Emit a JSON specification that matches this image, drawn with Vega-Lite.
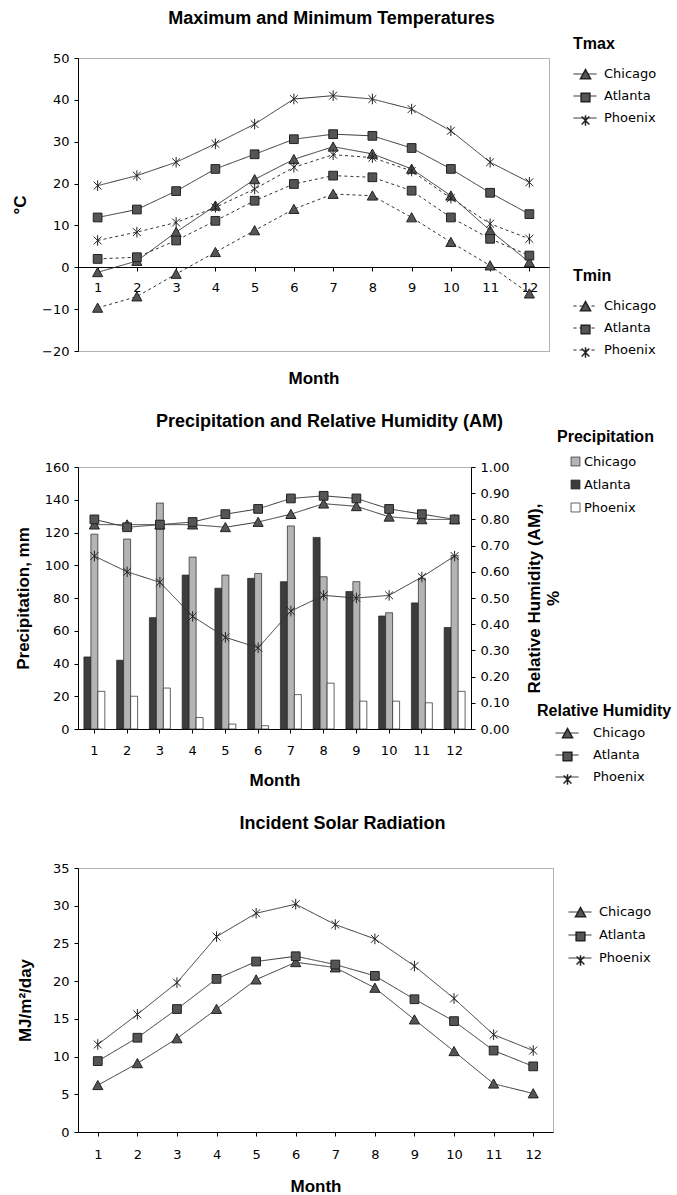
{
  "$schema": "https://vega.github.io/schema/vega-lite/v6.json",
  "background": "white",
  "padding": {"top": 9, "left": 11, "right": 0, "bottom": 0},
  "config": {
    "font": "Liberation Sans",
    "view": {"stroke": "#666", "strokeDash": [1, 1], "strokeWidth": 1},
    "axis": {"grid": false, "domainColor": "#000", "tickColor": "#000", "labelColor": "#000", "titleColor": "#000", "labelFont": "DejaVu Sans", "labelFontSize": 13, "titleFont": "Liberation Sans", "titleFontSize": 17, "titleFontWeight": "bold", "tickSize": 4, "labelPadding": 5},
    "legend": {"labelFont": "DejaVu Sans", "labelFontSize": 13, "labelColor": "#000", "titleFont": "Liberation Sans", "titleFontSize": 16, "titleFontWeight": "bold", "titleColor": "#000", "symbolSize": 529, "rowPadding": 3, "titlePadding": 10, "labelOffset": 7},
    "title": {"font": "Liberation Sans", "fontSize": 18, "fontWeight": "bold", "color": "#000", "anchor": "middle", "frame": "group"},
    "concat": {"spacing": 25}
  },
  "resolve": {"scale": {"shape": "independent", "strokeDash": "independent", "fill": "independent"}, "legend": {"shape": "independent", "strokeDash": "independent", "fill": "independent"}},
  "datasets": {
    "temp": [
      {"month": 1, "city": "Chicago", "kind": "Tmax", "value": -1.2},
      {"month": 2, "city": "Chicago", "kind": "Tmax", "value": 1.5},
      {"month": 3, "city": "Chicago", "kind": "Tmax", "value": 8.4},
      {"month": 4, "city": "Chicago", "kind": "Tmax", "value": 14.7},
      {"month": 5, "city": "Chicago", "kind": "Tmax", "value": 21},
      {"month": 6, "city": "Chicago", "kind": "Tmax", "value": 25.8},
      {"month": 7, "city": "Chicago", "kind": "Tmax", "value": 28.8},
      {"month": 8, "city": "Chicago", "kind": "Tmax", "value": 27.1},
      {"month": 9, "city": "Chicago", "kind": "Tmax", "value": 23.5},
      {"month": 10, "city": "Chicago", "kind": "Tmax", "value": 17.1},
      {"month": 11, "city": "Chicago", "kind": "Tmax", "value": 8.8},
      {"month": 12, "city": "Chicago", "kind": "Tmax", "value": 1.2},
      {"month": 1, "city": "Atlanta", "kind": "Tmax", "value": 11.9},
      {"month": 2, "city": "Atlanta", "kind": "Tmax", "value": 13.8},
      {"month": 3, "city": "Atlanta", "kind": "Tmax", "value": 18.2},
      {"month": 4, "city": "Atlanta", "kind": "Tmax", "value": 23.5},
      {"month": 5, "city": "Atlanta", "kind": "Tmax", "value": 27},
      {"month": 6, "city": "Atlanta", "kind": "Tmax", "value": 30.6},
      {"month": 7, "city": "Atlanta", "kind": "Tmax", "value": 31.8},
      {"month": 8, "city": "Atlanta", "kind": "Tmax", "value": 31.4},
      {"month": 9, "city": "Atlanta", "kind": "Tmax", "value": 28.5},
      {"month": 10, "city": "Atlanta", "kind": "Tmax", "value": 23.5},
      {"month": 11, "city": "Atlanta", "kind": "Tmax", "value": 17.8},
      {"month": 12, "city": "Atlanta", "kind": "Tmax", "value": 12.7},
      {"month": 1, "city": "Phoenix", "kind": "Tmax", "value": 19.5},
      {"month": 2, "city": "Phoenix", "kind": "Tmax", "value": 21.9},
      {"month": 3, "city": "Phoenix", "kind": "Tmax", "value": 25.1},
      {"month": 4, "city": "Phoenix", "kind": "Tmax", "value": 29.5},
      {"month": 5, "city": "Phoenix", "kind": "Tmax", "value": 34.2},
      {"month": 6, "city": "Phoenix", "kind": "Tmax", "value": 40.2},
      {"month": 7, "city": "Phoenix", "kind": "Tmax", "value": 41},
      {"month": 8, "city": "Phoenix", "kind": "Tmax", "value": 40.2},
      {"month": 9, "city": "Phoenix", "kind": "Tmax", "value": 37.8},
      {"month": 10, "city": "Phoenix", "kind": "Tmax", "value": 32.6},
      {"month": 11, "city": "Phoenix", "kind": "Tmax", "value": 25.1},
      {"month": 12, "city": "Phoenix", "kind": "Tmax", "value": 20.3},
      {"month": 1, "city": "Chicago", "kind": "Tmin", "value": -9.7},
      {"month": 2, "city": "Chicago", "kind": "Tmin", "value": -7},
      {"month": 3, "city": "Chicago", "kind": "Tmin", "value": -1.6},
      {"month": 4, "city": "Chicago", "kind": "Tmin", "value": 3.6},
      {"month": 5, "city": "Chicago", "kind": "Tmin", "value": 8.8},
      {"month": 6, "city": "Chicago", "kind": "Tmin", "value": 13.9},
      {"month": 7, "city": "Chicago", "kind": "Tmin", "value": 17.5},
      {"month": 8, "city": "Chicago", "kind": "Tmin", "value": 17.1},
      {"month": 9, "city": "Chicago", "kind": "Tmin", "value": 11.9},
      {"month": 10, "city": "Chicago", "kind": "Tmin", "value": 6},
      {"month": 11, "city": "Chicago", "kind": "Tmin", "value": 0.4},
      {"month": 12, "city": "Chicago", "kind": "Tmin", "value": -6.3},
      {"month": 1, "city": "Atlanta", "kind": "Tmin", "value": 2},
      {"month": 2, "city": "Atlanta", "kind": "Tmin", "value": 2.4},
      {"month": 3, "city": "Atlanta", "kind": "Tmin", "value": 6.4},
      {"month": 4, "city": "Atlanta", "kind": "Tmin", "value": 11.1},
      {"month": 5, "city": "Atlanta", "kind": "Tmin", "value": 15.9},
      {"month": 6, "city": "Atlanta", "kind": "Tmin", "value": 19.9},
      {"month": 7, "city": "Atlanta", "kind": "Tmin", "value": 21.9},
      {"month": 8, "city": "Atlanta", "kind": "Tmin", "value": 21.5},
      {"month": 9, "city": "Atlanta", "kind": "Tmin", "value": 18.3},
      {"month": 10, "city": "Atlanta", "kind": "Tmin", "value": 11.9},
      {"month": 11, "city": "Atlanta", "kind": "Tmin", "value": 6.8},
      {"month": 12, "city": "Atlanta", "kind": "Tmin", "value": 2.8},
      {"month": 1, "city": "Phoenix", "kind": "Tmin", "value": 6.4},
      {"month": 2, "city": "Phoenix", "kind": "Tmin", "value": 8.4},
      {"month": 3, "city": "Phoenix", "kind": "Tmin", "value": 10.7},
      {"month": 4, "city": "Phoenix", "kind": "Tmin", "value": 14.3},
      {"month": 5, "city": "Phoenix", "kind": "Tmin", "value": 18.7},
      {"month": 6, "city": "Phoenix", "kind": "Tmin", "value": 23.9},
      {"month": 7, "city": "Phoenix", "kind": "Tmin", "value": 26.9},
      {"month": 8, "city": "Phoenix", "kind": "Tmin", "value": 26.2},
      {"month": 9, "city": "Phoenix", "kind": "Tmin", "value": 23},
      {"month": 10, "city": "Phoenix", "kind": "Tmin", "value": 16.5},
      {"month": 11, "city": "Phoenix", "kind": "Tmin", "value": 10.4},
      {"month": 12, "city": "Phoenix", "kind": "Tmin", "value": 6.8}
    ],
    "precip": [
      {"month": 1, "station": "Atlanta", "value": 44}, {"month": 1, "station": "Chicago", "value": 119}, {"month": 1, "station": "Phoenix", "value": 23},
      {"month": 2, "station": "Atlanta", "value": 42}, {"month": 2, "station": "Chicago", "value": 116}, {"month": 2, "station": "Phoenix", "value": 20},
      {"month": 3, "station": "Atlanta", "value": 68}, {"month": 3, "station": "Chicago", "value": 138}, {"month": 3, "station": "Phoenix", "value": 25},
      {"month": 4, "station": "Atlanta", "value": 94}, {"month": 4, "station": "Chicago", "value": 105}, {"month": 4, "station": "Phoenix", "value": 7},
      {"month": 5, "station": "Atlanta", "value": 86}, {"month": 5, "station": "Chicago", "value": 94}, {"month": 5, "station": "Phoenix", "value": 3},
      {"month": 6, "station": "Atlanta", "value": 92}, {"month": 6, "station": "Chicago", "value": 95}, {"month": 6, "station": "Phoenix", "value": 2},
      {"month": 7, "station": "Atlanta", "value": 90}, {"month": 7, "station": "Chicago", "value": 124}, {"month": 7, "station": "Phoenix", "value": 21},
      {"month": 8, "station": "Atlanta", "value": 117}, {"month": 8, "station": "Chicago", "value": 93}, {"month": 8, "station": "Phoenix", "value": 28},
      {"month": 9, "station": "Atlanta", "value": 84}, {"month": 9, "station": "Chicago", "value": 90}, {"month": 9, "station": "Phoenix", "value": 17},
      {"month": 10, "station": "Atlanta", "value": 69}, {"month": 10, "station": "Chicago", "value": 71}, {"month": 10, "station": "Phoenix", "value": 17},
      {"month": 11, "station": "Atlanta", "value": 77}, {"month": 11, "station": "Chicago", "value": 92}, {"month": 11, "station": "Phoenix", "value": 16},
      {"month": 12, "station": "Atlanta", "value": 62}, {"month": 12, "station": "Chicago", "value": 106}, {"month": 12, "station": "Phoenix", "value": 23}
    ],
    "rh": [
      {"month": 1, "city": "Chicago", "value": 0.78}, {"month": 2, "city": "Chicago", "value": 0.78}, {"month": 3, "city": "Chicago", "value": 0.78},
      {"month": 4, "city": "Chicago", "value": 0.78}, {"month": 5, "city": "Chicago", "value": 0.77}, {"month": 6, "city": "Chicago", "value": 0.79},
      {"month": 7, "city": "Chicago", "value": 0.82}, {"month": 8, "city": "Chicago", "value": 0.86}, {"month": 9, "city": "Chicago", "value": 0.85},
      {"month": 10, "city": "Chicago", "value": 0.81}, {"month": 11, "city": "Chicago", "value": 0.8}, {"month": 12, "city": "Chicago", "value": 0.8},
      {"month": 1, "city": "Atlanta", "value": 0.8}, {"month": 2, "city": "Atlanta", "value": 0.77}, {"month": 3, "city": "Atlanta", "value": 0.78},
      {"month": 4, "city": "Atlanta", "value": 0.79}, {"month": 5, "city": "Atlanta", "value": 0.82}, {"month": 6, "city": "Atlanta", "value": 0.84},
      {"month": 7, "city": "Atlanta", "value": 0.88}, {"month": 8, "city": "Atlanta", "value": 0.89}, {"month": 9, "city": "Atlanta", "value": 0.88},
      {"month": 10, "city": "Atlanta", "value": 0.84}, {"month": 11, "city": "Atlanta", "value": 0.82}, {"month": 12, "city": "Atlanta", "value": 0.8},
      {"month": 1, "city": "Phoenix", "value": 0.66}, {"month": 2, "city": "Phoenix", "value": 0.6}, {"month": 3, "city": "Phoenix", "value": 0.56},
      {"month": 4, "city": "Phoenix", "value": 0.43}, {"month": 5, "city": "Phoenix", "value": 0.35}, {"month": 6, "city": "Phoenix", "value": 0.31},
      {"month": 7, "city": "Phoenix", "value": 0.45}, {"month": 8, "city": "Phoenix", "value": 0.51}, {"month": 9, "city": "Phoenix", "value": 0.5},
      {"month": 10, "city": "Phoenix", "value": 0.51}, {"month": 11, "city": "Phoenix", "value": 0.58}, {"month": 12, "city": "Phoenix", "value": 0.66}
    ],
    "solar": [
      {"month": 1, "city": "Chicago", "value": 6.2}, {"month": 2, "city": "Chicago", "value": 9.1}, {"month": 3, "city": "Chicago", "value": 12.4},
      {"month": 4, "city": "Chicago", "value": 16.3}, {"month": 5, "city": "Chicago", "value": 20.2}, {"month": 6, "city": "Chicago", "value": 22.5},
      {"month": 7, "city": "Chicago", "value": 21.8}, {"month": 8, "city": "Chicago", "value": 19.1}, {"month": 9, "city": "Chicago", "value": 14.9},
      {"month": 10, "city": "Chicago", "value": 10.7}, {"month": 11, "city": "Chicago", "value": 6.4}, {"month": 12, "city": "Chicago", "value": 5.1},
      {"month": 1, "city": "Atlanta", "value": 9.4}, {"month": 2, "city": "Atlanta", "value": 12.5}, {"month": 3, "city": "Atlanta", "value": 16.3},
      {"month": 4, "city": "Atlanta", "value": 20.3}, {"month": 5, "city": "Atlanta", "value": 22.6}, {"month": 6, "city": "Atlanta", "value": 23.3},
      {"month": 7, "city": "Atlanta", "value": 22.2}, {"month": 8, "city": "Atlanta", "value": 20.7}, {"month": 9, "city": "Atlanta", "value": 17.6},
      {"month": 10, "city": "Atlanta", "value": 14.7}, {"month": 11, "city": "Atlanta", "value": 10.8}, {"month": 12, "city": "Atlanta", "value": 8.7},
      {"month": 1, "city": "Phoenix", "value": 11.6}, {"month": 2, "city": "Phoenix", "value": 15.6}, {"month": 3, "city": "Phoenix", "value": 19.8},
      {"month": 4, "city": "Phoenix", "value": 25.9}, {"month": 5, "city": "Phoenix", "value": 29}, {"month": 6, "city": "Phoenix", "value": 30.2},
      {"month": 7, "city": "Phoenix", "value": 27.5}, {"month": 8, "city": "Phoenix", "value": 25.6}, {"month": 9, "city": "Phoenix", "value": 22},
      {"month": 10, "city": "Phoenix", "value": 17.7}, {"month": 11, "city": "Phoenix", "value": 12.9}, {"month": 12, "city": "Phoenix", "value": 10.8}
    ]
  },
  "vconcat": [
    {
      "width": 471,
      "height": 293,
      "title": {"text": "Maximum and Minimum Temperatures", "dx": 18, "offset": 8},
      "data": {"name": "temp"},
      "encoding": {
        "x": {"field": "month", "type": "ordinal", "scale": {"type": "point", "padding": 0.5}, "axis": {"title": "Month", "labelAngle": 0, "offset": -84, "labelPadding": 10, "titlePadding": 76}},
        "y": {"field": "value", "type": "quantitative", "scale": {"domain": [-20, 50], "nice": false, "zero": false}, "axis": {"title": "°C", "values": [-20, -10, 0, 10, 20, 30, 40, 50], "titlePadding": 12}}
      },
      "layer": [
        {"transform": [{"filter": "datum.kind === 'Tmax'"}], "mark": {"type": "line", "color": "#333", "strokeWidth": 1},
         "encoding": {"strokeDash": {"field": "city", "type": "nominal", "scale": {"domain": ["Chicago", "Atlanta", "Phoenix"], "range": [[1, 0], [1, 0], [1, 0]]},
           "legend": {"title": "Tmax", "orient": "none", "legendX": 495, "legendY": -22, "symbolStrokeColor": "#222", "symbolStrokeWidth": 1}}}},
        {"transform": [{"filter": "datum.kind === 'Tmin'"}], "mark": {"type": "line", "color": "#333", "strokeWidth": 1},
         "encoding": {"strokeDash": {"field": "city", "type": "nominal", "scale": {"domain": ["Chicago", "Atlanta", "Phoenix"], "range": [[3, 3], [3, 3], [3, 3]]},
           "legend": {"title": "Tmin", "orient": "none", "legendX": 495, "legendY": 210, "symbolStrokeColor": "#222", "symbolStrokeWidth": 1}}}},
        {"transform": [{"filter": "datum.kind === 'Tmax'"}], "mark": {"type": "point", "filled": true, "fill": "#555", "stroke": "#222", "strokeWidth": 1, "opacity": 1, "size": 529},
         "encoding": {"shape": {"field": "city", "type": "nominal", "scale": {"domain": ["Chicago", "Atlanta", "Phoenix"], "range": ["M-0.44,0.38L0,-0.42L0.44,0.38Z", "M-0.38,-0.38L0.38,-0.38L0.38,0.38L-0.38,0.38Z", "M-0.34,-0.34L0.34,0.34M-0.34,0.34L0.34,-0.34M0,-0.46L0,0.46"]},
           "legend": {"title": " ", "labelExpr": "''", "orient": "none", "legendX": 495, "legendY": -22,
             "encode": {"symbols": {"update": {"fill": {"value": "#555"}, "stroke": {"value": "#222"}, "strokeWidth": {"value": 1}, "opacity": {"value": 1}}}}}}}},
        {"transform": [{"filter": "datum.kind === 'Tmin'"}], "mark": {"type": "point", "filled": true, "fill": "#555", "stroke": "#222", "strokeWidth": 1, "opacity": 1, "size": 529},
         "encoding": {"shape": {"field": "city", "type": "nominal", "scale": {"domain": ["Chicago", "Atlanta", "Phoenix"], "range": ["M-0.44,0.38L0,-0.42L0.44,0.38Z", "M-0.38,-0.38L0.38,-0.38L0.38,0.38L-0.38,0.38Z", "M-0.34,-0.34L0.34,0.34M-0.34,0.34L0.34,-0.34M0,-0.46L0,0.46"]},
           "legend": {"title": " ", "labelExpr": "''", "orient": "none", "legendX": 495, "legendY": 210,
             "encode": {"symbols": {"update": {"fill": {"value": "#555"}, "stroke": {"value": "#222"}, "strokeWidth": {"value": 1}, "opacity": {"value": 1}}}}}}}}
      ],
      "resolve": {"scale": {"shape": "independent", "strokeDash": "independent"}, "legend": {"shape": "independent", "strokeDash": "independent"}}
    },
    {
      "width": 393,
      "height": 262,
      "title": {"text": "Precipitation and Relative Humidity (AM)", "dx": 55, "offset": -2},
      "layer": [
        {
          "data": {"name": "precip"},
          "mark": {"type": "bar", "stroke": "#222", "strokeWidth": 0.7},
          "encoding": {
            "x": {"field": "month", "type": "ordinal", "scale": {"type": "band", "paddingInner": 0.36, "paddingOuter": 0.18}, "axis": {"title": "Month", "labelAngle": 0, "labelPadding": 11, "titlePadding": 15}},
            "xOffset": {"field": "station", "type": "nominal", "scale": {"domain": ["Atlanta", "Chicago", "Phoenix"], "paddingInner": 0}},
            "y": {"field": "value", "type": "quantitative", "scale": {"domain": [0, 160], "nice": false}, "axis": {"title": "Precipitation, mm", "values": [0, 20, 40, 60, 80, 100, 120, 140, 160], "titlePadding": 12}},
            "fill": {"field": "station", "type": "nominal", "scale": {"domain": ["Chicago", "Atlanta", "Phoenix"], "range": ["#b4b4b4", "#3c3c3c", "#ffffff"]},
              "legend": {"title": "Precipitation", "orient": "none", "legendX": 479, "legendY": -38, "symbolType": "square", "symbolSize": 80, "symbolStrokeColor": "#222", "symbolStrokeWidth": 0.7, "symbolOffset": 12, "rowPadding": 9, "titlePadding": 10, "labelOffset": 2}}
          }
        },
        {
          "data": {"name": "rh"},
          "mark": {"type": "line", "color": "#333", "strokeWidth": 1},
          "encoding": {
            "x": {"field": "month", "type": "ordinal"},
            "y": {"field": "value", "type": "quantitative", "scale": {"domain": [0, 1], "nice": false}, "axis": {"orient": "right", "title": ["Relative Humidity (AM),", "%"], "titleAngle": 270, "format": ".2f", "values": [0, 0.1, 0.2, 0.3, 0.4, 0.5, 0.6, 0.7, 0.8, 0.9, 1.0], "titlePadding": 16}},
            "strokeDash": {"field": "city", "type": "nominal", "scale": {"domain": ["Chicago", "Atlanta", "Phoenix"], "range": [[1, 0], [1, 0], [1, 0]]},
              "legend": {"title": "Relative Humidity", "orient": "none", "legendX": 459, "legendY": 236, "symbolStrokeColor": "#222", "symbolStrokeWidth": 1, "symbolOffset": 18, "labelOffset": 14, "titlePadding": 2}}
          }
        },
        {
          "data": {"name": "rh"},
          "mark": {"type": "point", "filled": true, "fill": "#555", "stroke": "#222", "strokeWidth": 1, "opacity": 1, "size": 529},
          "encoding": {
            "x": {"field": "month", "type": "ordinal"},
            "y": {"field": "value", "type": "quantitative", "scale": {"domain": [0, 1], "nice": false}, "axis": null},
            "shape": {"field": "city", "type": "nominal", "scale": {"domain": ["Chicago", "Atlanta", "Phoenix"], "range": ["M-0.44,0.38L0,-0.42L0.44,0.38Z", "M-0.38,-0.38L0.38,-0.38L0.38,0.38L-0.38,0.38Z", "M-0.34,-0.34L0.34,0.34M-0.34,0.34L0.34,-0.34M0,-0.46L0,0.46"]},
              "legend": {"title": " ", "labelExpr": "''", "orient": "none", "legendX": 459, "legendY": 236, "symbolOffset": 18, "labelOffset": 14, "titlePadding": 2,
                "encode": {"symbols": {"update": {"fill": {"value": "#555"}, "stroke": {"value": "#222"}, "strokeWidth": {"value": 1}, "opacity": {"value": 1}}}}}}
          }
        }
      ],
      "resolve": {"scale": {"y": "independent", "fill": "independent", "shape": "independent", "strokeDash": "independent"}, "legend": {"fill": "independent", "shape": "independent", "strokeDash": "independent"}}
    },
    {
      "width": 475,
      "height": 264,
      "title": {"text": "Incident Solar Radiation", "dx": 27, "offset": 29},
      "data": {"name": "solar"},
      "encoding": {
        "x": {"field": "month", "type": "ordinal", "scale": {"type": "point", "padding": 0.5}, "axis": {"title": "Month", "labelAngle": 0, "labelPadding": 12, "titlePadding": 17}},
        "y": {"field": "value", "type": "quantitative", "scale": {"domain": [0, 35], "nice": false}, "axis": {"title": "MJ/m²/day", "values": [0, 5, 10, 15, 20, 25, 30, 35], "titlePadding": 18}}
      },
      "layer": [
        {"mark": {"type": "line", "color": "#333", "strokeWidth": 1},
         "encoding": {"strokeDash": {"field": "city", "type": "nominal", "scale": {"domain": ["Chicago", "Atlanta", "Phoenix"], "range": [[1, 0], [1, 0], [1, 0]]},
           "legend": {"title": null, "orient": "none", "legendX": 490, "legendY": 32, "rowPadding": 4, "symbolStrokeColor": "#222", "symbolStrokeWidth": 1}}}},
        {"mark": {"type": "point", "filled": true, "fill": "#555", "stroke": "#222", "strokeWidth": 1, "opacity": 1, "size": 529},
         "encoding": {"shape": {"field": "city", "type": "nominal", "scale": {"domain": ["Chicago", "Atlanta", "Phoenix"], "range": ["M-0.44,0.38L0,-0.42L0.44,0.38Z", "M-0.38,-0.38L0.38,-0.38L0.38,0.38L-0.38,0.38Z", "M-0.34,-0.34L0.34,0.34M-0.34,0.34L0.34,-0.34M0,-0.46L0,0.46"]},
           "legend": {"title": null, "labelExpr": "''", "orient": "none", "legendX": 490, "legendY": 32, "rowPadding": 4,
             "encode": {"symbols": {"update": {"fill": {"value": "#555"}, "stroke": {"value": "#222"}, "strokeWidth": {"value": 1}, "opacity": {"value": 1}}}}}}}}
      ],
      "resolve": {"scale": {"shape": "independent", "strokeDash": "independent"}, "legend": {"shape": "independent", "strokeDash": "independent"}}
    }
  ]
}
